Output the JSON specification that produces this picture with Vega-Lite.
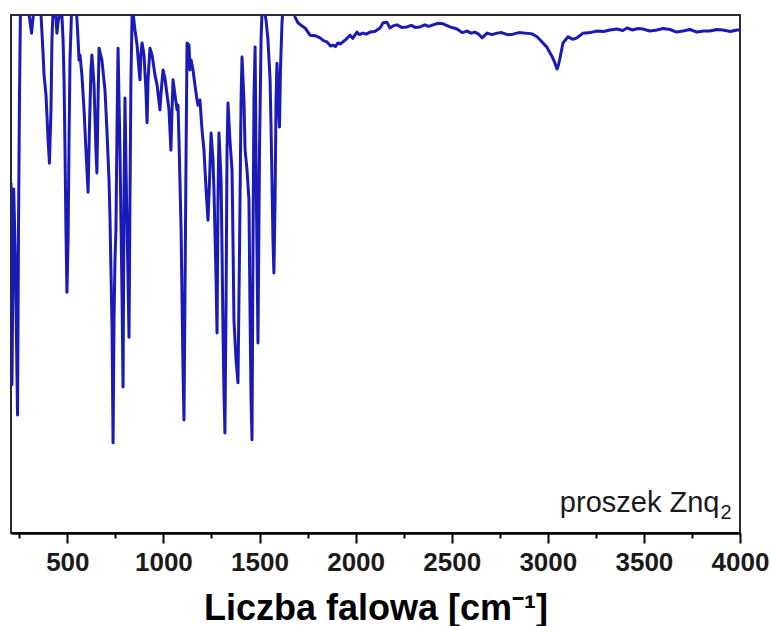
{
  "$schema": "https://vega.github.io/schema/vega-lite/v6.json",
  "width": 729,
  "height": 518,
  "autosize": "none",
  "padding": {"left": 11, "top": 15, "right": 32, "bottom": 93},
  "background": "white",
  "config": {
    "view": {"stroke": "#2b2b2b", "strokeWidth": 2},
    "font": "Liberation Sans"
  },
  "datasets": {
    "spectrum": [
      {"w": 207, "t": 67.6}, {"w": 212, "t": 28.6}, {"w": 221, "t": 66.4}, {"w": 230, "t": 52.7}, {"w": 241, "t": 22.8},
      {"w": 246, "t": 58.5}, {"w": 251, "t": 83.6}, {"w": 256, "t": 100.6}, {"w": 269, "t": 101.4}, {"w": 285, "t": 100.6},
      {"w": 301, "t": 100.2}, {"w": 308, "t": 98.1}, {"w": 314, "t": 96.5}, {"w": 319, "t": 98.6}, {"w": 327, "t": 101.0},
      {"w": 347, "t": 101.4}, {"w": 363, "t": 100.2}, {"w": 373, "t": 93.2}, {"w": 379, "t": 88.4}, {"w": 389, "t": 84.6},
      {"w": 394, "t": 80.7}, {"w": 400, "t": 75.9}, {"w": 407, "t": 71.4}, {"w": 415, "t": 81.7}, {"w": 420, "t": 95.2},
      {"w": 426, "t": 101.0}, {"w": 436, "t": 100.6}, {"w": 441, "t": 99.4}, {"w": 446, "t": 96.5}, {"w": 452, "t": 98.6},
      {"w": 462, "t": 100.6}, {"w": 472, "t": 99.8}, {"w": 478, "t": 95.2}, {"w": 483, "t": 87.5}, {"w": 488, "t": 73.9},
      {"w": 493, "t": 58.5}, {"w": 498, "t": 46.5}, {"w": 504, "t": 56.6}, {"w": 509, "t": 75.9}, {"w": 514, "t": 91.3},
      {"w": 522, "t": 100.6}, {"w": 535, "t": 101.4}, {"w": 548, "t": 100.6}, {"w": 556, "t": 95.2}, {"w": 561, "t": 91.3},
      {"w": 566, "t": 92.3}, {"w": 576, "t": 88.4}, {"w": 587, "t": 81.7}, {"w": 597, "t": 73.9}, {"w": 608, "t": 65.8},
      {"w": 615, "t": 77.8}, {"w": 623, "t": 89.4}, {"w": 628, "t": 92.3}, {"w": 639, "t": 86.5}, {"w": 649, "t": 73.9},
      {"w": 654, "t": 69.5}, {"w": 660, "t": 83.6}, {"w": 665, "t": 93.6}, {"w": 680, "t": 91.3}, {"w": 696, "t": 85.5},
      {"w": 706, "t": 77.8}, {"w": 717, "t": 68.1}, {"w": 722, "t": 61.0}, {"w": 727, "t": 50.8}, {"w": 733, "t": 39.2},
      {"w": 738, "t": 17.4}, {"w": 743, "t": 41.1}, {"w": 748, "t": 52.7}, {"w": 753, "t": 58.5}, {"w": 759, "t": 79.7},
      {"w": 764, "t": 93.6}, {"w": 774, "t": 73.9}, {"w": 785, "t": 45.0}, {"w": 790, "t": 28.2}, {"w": 795, "t": 64.3},
      {"w": 800, "t": 84.0}, {"w": 805, "t": 72.0}, {"w": 811, "t": 58.5}, {"w": 816, "t": 48.8}, {"w": 821, "t": 37.8},
      {"w": 826, "t": 64.3}, {"w": 831, "t": 87.5}, {"w": 837, "t": 99.8}, {"w": 842, "t": 100.4}, {"w": 852, "t": 97.1},
      {"w": 863, "t": 94.2}, {"w": 873, "t": 89.4}, {"w": 878, "t": 87.5}, {"w": 883, "t": 92.3}, {"w": 889, "t": 94.6},
      {"w": 899, "t": 92.3}, {"w": 909, "t": 85.5}, {"w": 915, "t": 79.2}, {"w": 920, "t": 87.5}, {"w": 930, "t": 93.6},
      {"w": 941, "t": 92.3}, {"w": 956, "t": 88.4}, {"w": 967, "t": 86.5}, {"w": 982, "t": 81.7}, {"w": 987, "t": 84.6},
      {"w": 998, "t": 89.4}, {"w": 1008, "t": 87.8}, {"w": 1019, "t": 84.6}, {"w": 1029, "t": 81.7}, {"w": 1039, "t": 73.9},
      {"w": 1045, "t": 81.7}, {"w": 1050, "t": 87.5}, {"w": 1060, "t": 84.6}, {"w": 1071, "t": 81.7}, {"w": 1076, "t": 82.6},
      {"w": 1081, "t": 75.9}, {"w": 1086, "t": 68.1}, {"w": 1092, "t": 58.5}, {"w": 1097, "t": 45.0}, {"w": 1102, "t": 31.5},
      {"w": 1107, "t": 21.8}, {"w": 1112, "t": 45.0}, {"w": 1118, "t": 73.9}, {"w": 1123, "t": 94.6}, {"w": 1133, "t": 94.2},
      {"w": 1138, "t": 89.4}, {"w": 1144, "t": 91.3}, {"w": 1154, "t": 89.4}, {"w": 1164, "t": 86.5}, {"w": 1175, "t": 83.6},
      {"w": 1180, "t": 82.6}, {"w": 1190, "t": 83.6}, {"w": 1201, "t": 77.8}, {"w": 1211, "t": 73.9}, {"w": 1222, "t": 66.3},
      {"w": 1232, "t": 60.4}, {"w": 1240, "t": 68.1}, {"w": 1248, "t": 77.2}, {"w": 1258, "t": 72.0}, {"w": 1263, "t": 66.3},
      {"w": 1274, "t": 48.8}, {"w": 1279, "t": 38.6}, {"w": 1284, "t": 64.3}, {"w": 1289, "t": 77.2}, {"w": 1300, "t": 68.1},
      {"w": 1305, "t": 54.6}, {"w": 1310, "t": 39.2}, {"w": 1315, "t": 27.6}, {"w": 1320, "t": 19.3}, {"w": 1326, "t": 45.0},
      {"w": 1331, "t": 73.9}, {"w": 1336, "t": 83.0}, {"w": 1346, "t": 75.9}, {"w": 1357, "t": 70.1}, {"w": 1362, "t": 56.6},
      {"w": 1367, "t": 41.1}, {"w": 1378, "t": 33.4}, {"w": 1388, "t": 29.0}, {"w": 1396, "t": 54.6}, {"w": 1404, "t": 83.6},
      {"w": 1409, "t": 91.9}, {"w": 1419, "t": 83.6}, {"w": 1425, "t": 73.9}, {"w": 1435, "t": 70.1}, {"w": 1445, "t": 64.3},
      {"w": 1450, "t": 45.0}, {"w": 1456, "t": 25.7}, {"w": 1461, "t": 18.0}, {"w": 1466, "t": 54.6}, {"w": 1471, "t": 83.6},
      {"w": 1477, "t": 93.8}, {"w": 1484, "t": 64.3}, {"w": 1492, "t": 36.7}, {"w": 1500, "t": 73.9}, {"w": 1508, "t": 95.2},
      {"w": 1513, "t": 100.6}, {"w": 1523, "t": 101.4}, {"w": 1534, "t": 99.0}, {"w": 1544, "t": 95.2}, {"w": 1555, "t": 87.5},
      {"w": 1560, "t": 78.4}, {"w": 1565, "t": 68.1}, {"w": 1570, "t": 56.6}, {"w": 1575, "t": 50.2}, {"w": 1581, "t": 64.3},
      {"w": 1586, "t": 83.6}, {"w": 1591, "t": 90.7}, {"w": 1599, "t": 81.7}, {"w": 1604, "t": 78.4}, {"w": 1609, "t": 89.4},
      {"w": 1617, "t": 98.5}, {"w": 1622, "t": 101.0}, {"w": 1638, "t": 105.8}, {"w": 1659, "t": 105.8}, {"w": 1674, "t": 101.9},
      {"w": 1685, "t": 99.6}, {"w": 1700, "t": 98.5}, {"w": 1720, "t": 97.9}, {"w": 1737, "t": 97.5}, {"w": 1763, "t": 96.1},
      {"w": 1790, "t": 96.0}, {"w": 1815, "t": 95.6}, {"w": 1835, "t": 95.0}, {"w": 1851, "t": 94.8}, {"w": 1870, "t": 94.0},
      {"w": 1882, "t": 94.2}, {"w": 1895, "t": 93.9}, {"w": 1908, "t": 94.6}, {"w": 1920, "t": 94.4}, {"w": 1934, "t": 94.8},
      {"w": 1950, "t": 95.3}, {"w": 1971, "t": 96.1}, {"w": 1985, "t": 95.5}, {"w": 2007, "t": 96.7}, {"w": 2020, "t": 96.2},
      {"w": 2038, "t": 96.5}, {"w": 2055, "t": 96.3}, {"w": 2075, "t": 96.7}, {"w": 2100, "t": 96.8}, {"w": 2127, "t": 97.5},
      {"w": 2143, "t": 98.5}, {"w": 2163, "t": 98.6}, {"w": 2179, "t": 97.5}, {"w": 2195, "t": 97.9}, {"w": 2215, "t": 98.1},
      {"w": 2240, "t": 97.6}, {"w": 2267, "t": 97.7}, {"w": 2290, "t": 98.0}, {"w": 2310, "t": 97.6}, {"w": 2335, "t": 97.7},
      {"w": 2360, "t": 98.1}, {"w": 2380, "t": 97.8}, {"w": 2403, "t": 98.1}, {"w": 2430, "t": 98.4}, {"w": 2455, "t": 98.3},
      {"w": 2491, "t": 97.7}, {"w": 2528, "t": 97.3}, {"w": 2555, "t": 96.6}, {"w": 2580, "t": 96.9}, {"w": 2600, "t": 96.5},
      {"w": 2621, "t": 96.7}, {"w": 2640, "t": 96.3}, {"w": 2658, "t": 95.6}, {"w": 2684, "t": 96.5}, {"w": 2710, "t": 96.2},
      {"w": 2736, "t": 96.5}, {"w": 2760, "t": 96.6}, {"w": 2790, "t": 96.2}, {"w": 2819, "t": 96.3}, {"w": 2850, "t": 96.6},
      {"w": 2881, "t": 96.5}, {"w": 2915, "t": 96.4}, {"w": 2944, "t": 95.8}, {"w": 2975, "t": 94.6}, {"w": 2995, "t": 93.8},
      {"w": 3011, "t": 92.7}, {"w": 3025, "t": 91.8}, {"w": 3037, "t": 90.7}, {"w": 3048, "t": 89.6}, {"w": 3055, "t": 90.3},
      {"w": 3063, "t": 91.6}, {"w": 3079, "t": 94.6}, {"w": 3105, "t": 95.8}, {"w": 3130, "t": 95.3}, {"w": 3152, "t": 95.6},
      {"w": 3183, "t": 96.5}, {"w": 3220, "t": 96.6}, {"w": 3256, "t": 96.9}, {"w": 3290, "t": 96.8}, {"w": 3324, "t": 97.1},
      {"w": 3360, "t": 97.3}, {"w": 3390, "t": 97.0}, {"w": 3412, "t": 97.5}, {"w": 3440, "t": 97.1}, {"w": 3470, "t": 97.4},
      {"w": 3495, "t": 97.3}, {"w": 3530, "t": 96.9}, {"w": 3568, "t": 97.1}, {"w": 3600, "t": 97.4}, {"w": 3636, "t": 97.2},
      {"w": 3670, "t": 96.7}, {"w": 3703, "t": 96.9}, {"w": 3740, "t": 97.2}, {"w": 3776, "t": 96.7}, {"w": 3810, "t": 96.9},
      {"w": 3844, "t": 96.9}, {"w": 3880, "t": 97.2}, {"w": 3911, "t": 97.1}, {"w": 3950, "t": 96.8}, {"w": 3984, "t": 97.1},
      {"w": 4000, "t": 97.1}
    ],
    "label": [
      {"w": 3893, "t": 4, "text": "proszek Znq"}
    ],
    "sub": [
      {"w": 3893, "t": 4, "text": "2"}
    ]
  },
  "layer": [
    {
      "data": {"name": "spectrum"},
      "mark": {"type": "line", "color": "#1a1ab8", "strokeWidth": 3, "clip": true, "strokeJoin": "round"},
      "encoding": {
        "x": {
          "field": "w",
          "type": "quantitative",
          "scale": {"domain": [207, 4000], "nice": false, "zero": false},
          "axis": {
            "values": [250, 500, 750, 1000, 1250, 1500, 1750, 2000, 2250, 2500, 2750, 3000, 3250, 3500, 3750, 4000],
            "format": "d",
            "labelExpr": "datum.value % 500 === 0 ? datum.label : ''",
            "tickSize": {"expr": "datum.value % 500 === 0 ? 10 : 5"},
            "tickWidth": 2,
            "tickColor": "black",
            "domainColor": "black",
            "domainWidth": 2.5,
            "grid": false,
            "labelFont": "Liberation Sans",
            "labelFontWeight": "bold",
            "labelFontSize": 26,
            "labelColor": "#1a1a1a",
            "labelPadding": 6,
            "labelFlush": false,
            "labelOverlap": false,
            "title": "Liczba falowa [cm⁻¹]",
            "titleFont": "Liberation Sans",
            "titleFontWeight": "bold",
            "titleFontSize": 36,
            "titleColor": "black",
            "titlePadding": 16
          }
        },
        "y": {
          "field": "t",
          "type": "quantitative",
          "scale": {"domain": [0, 100], "nice": false},
          "axis": null
        }
      }
    },
    {
      "data": {"name": "label"},
      "mark": {"type": "text", "align": "right", "baseline": "alphabetic", "font": "Liberation Sans", "fontSize": 29, "color": "#1a1a1a"},
      "encoding": {
        "x": {"field": "w", "type": "quantitative"},
        "y": {"field": "t", "type": "quantitative"},
        "text": {"field": "text"}
      }
    },
    {
      "data": {"name": "sub"},
      "mark": {"type": "text", "align": "left", "baseline": "alphabetic", "dx": 1, "dy": 7, "font": "Liberation Sans", "fontSize": 20, "color": "#1a1a1a"},
      "encoding": {
        "x": {"field": "w", "type": "quantitative"},
        "y": {"field": "t", "type": "quantitative"},
        "text": {"field": "text"}
      }
    }
  ]
}
